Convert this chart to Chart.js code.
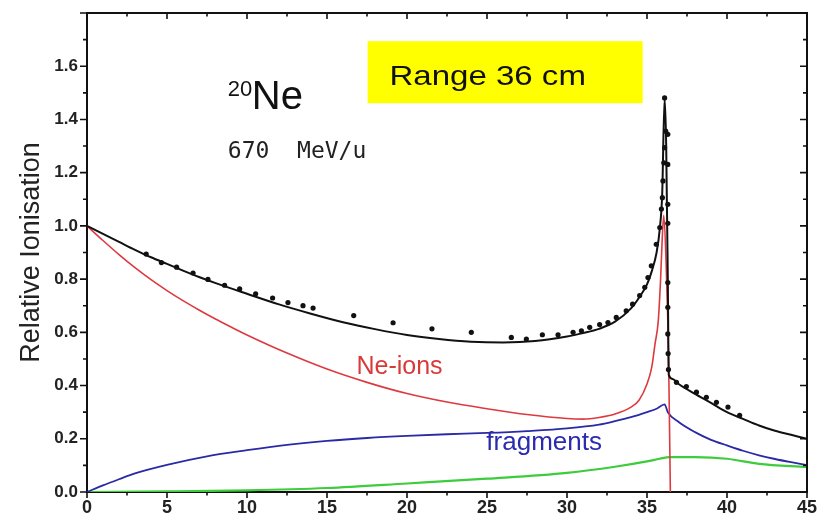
<!DOCTYPE html>
<html><head><meta charset="utf-8">
<script src="https://cdn.jsdelivr.net/npm/chart.js@4/dist/chart.umd.min.js"></script>
<style>html,body{margin:0;padding:0;background:#fff}#wrap{width:818px;height:520px}</style>
</head><body><div id="wrap"><canvas id="c" width="818" height="520"></canvas></div>
<script>
// ---- data ----
const totalX = [0,1,2,3,4,5,6,7,8,10,12,14,16,18,20,22,24,26,28,30,31,32,33,34,34.5,35,35.3,35.6,35.8,35.95,36.1,36.2,36.3,36.36,36.6,37,38,39,40,41,42,43,44,45];
const totalY = [1.0,0.97,0.94,0.91,0.882,0.857,0.832,0.808,0.786,0.745,0.705,0.67,0.638,0.612,0.59,0.575,0.565,0.562,0.567,0.584,0.597,0.613,0.64,0.69,0.73,0.78,0.83,0.9,0.99,1.12,1.48,1.30,0.80,0.44,0.425,0.405,0.369,0.335,0.30,0.275,0.25,0.23,0.215,0.2];

const neX = [0,1,2,3,4,5,6,7,8,9,10,12.5,15,17.5,20,22.5,25,27.5,30,31,32,33,34,34.5,35,35.3,35.5,35.7,35.85,35.95,36.05,36.2,36.35,36.46];
const neY = [1.0,0.945,0.892,0.843,0.798,0.757,0.719,0.684,0.651,0.62,0.59,0.522,0.462,0.412,0.37,0.338,0.313,0.291,0.276,0.274,0.28,0.293,0.319,0.345,0.406,0.47,0.556,0.64,0.8,0.95,1.04,0.85,0.5,0.0];

const fragX = [0,1,2,3,5,7.5,10,12.5,15,17.5,20,22.5,25,27.5,30,32,33,34,35,35.6,36.1,36.3,37,38,39,40,41,42,43,44,45];
const fragY = [0,0.025,0.048,0.07,0.102,0.134,0.157,0.177,0.192,0.203,0.211,0.217,0.222,0.229,0.239,0.253,0.266,0.281,0.30,0.313,0.329,0.30,0.262,0.225,0.196,0.175,0.155,0.138,0.124,0.112,0.101];

const greenX = [0,5,10,15,20,25,30,33,35,35.8,36.4,38,40,42,45];
const greenY = [0,0.002,0.006,0.015,0.032,0.05,0.072,0.095,0.115,0.125,0.131,0.131,0.125,0.106,0.094];

const dotX = [3.7,4.65,5.6,6.63,7.56,8.6,9.54,10.54,11.6,12.56,13.5,14.13,16.67,19.13,21.56,24.02,26.52,27.46,28.46,29.44,30.38,30.9,31.42,32.04,32.56,33.08,33.7,34.1,34.54,34.86,35.06,35.27,35.58,35.8,35.9,35.96,36.0,36.05,36.1,36.17,36.1,36.3,36.3,36.3,36.3,36.3,36.3,36.3,36.32,36.34,36.84,37.46,38.09,38.71,39.34,40.06,40.79];
const dotY = [0.894,0.862,0.845,0.823,0.799,0.777,0.763,0.745,0.729,0.712,0.70,0.691,0.663,0.636,0.613,0.60,0.581,0.575,0.591,0.591,0.60,0.606,0.619,0.629,0.637,0.656,0.681,0.706,0.738,0.769,0.806,0.85,0.931,0.994,1.063,1.106,1.169,1.237,1.294,1.356,1.481,1.344,1.231,1.081,1.01,0.787,0.694,0.594,0.52,0.46,0.412,0.396,0.375,0.356,0.337,0.319,0.288];

const xTickStep = 5, xMinorStep = 2.5;
const yTickStep = 0.2, yMinorStep = 0.1;
const yLabelMax = 1.6;

const zip = (xs, ys) => xs.map((x, i) => ({x, y: ys[i]}));

// annotations (data coordinates)
const notes = [
  {text: '20', x: 8.79, y: 1.487, font: '22px "Liberation Sans"', color: '#111'},
  {text: 'Ne', x: 10.3, y: 1.438, font: '40px "Liberation Sans"', color: '#111'},
  {text: '670  MeV/u', x: 8.8, y: 1.254, font: '23px "DejaVu Sans Mono"', color: '#222'},
  {text: 'Range 36 cm', x: 18.9, y: 1.529, font: '28px "Liberation Sans"', color: '#111', sx: 1.18},
  {text: 'Ne-ions', x: 16.84, y: 0.444, font: '25px "Liberation Sans"', color: '#d83a3a'},
  {text: 'fragments', x: 24.96, y: 0.156, font: '26px "Liberation Sans"', color: '#2b2bb0'}
];
const box = {x0: 17.54, x1: 34.73, y0: 1.461, y1: 1.694, color: '#ffff00'};

const decor = {
  id: 'decor',
  beforeDatasetsDraw(chart) {
    const {ctx, scales: {x, y}} = chart;
    ctx.save();
    ctx.fillStyle = box.color;
    const px0 = x.getPixelForValue(box.x0), px1 = x.getPixelForValue(box.x1);
    const py0 = y.getPixelForValue(box.y1), py1 = y.getPixelForValue(box.y0);
    ctx.fillRect(px0, py0, px1 - px0, py1 - py0);
    ctx.restore();
  },
  afterDraw(chart) {
    const {ctx, chartArea: {left, right, top, bottom}, scales: {x, y}} = chart;
    ctx.save();
    ctx.strokeStyle = '#111';
    ctx.lineWidth = 2;
    ctx.beginPath();
    ctx.moveTo(left - 1, top); ctx.lineTo(right, top); ctx.lineTo(right, bottom + 1);
    ctx.stroke();
    ctx.lineWidth = 1.6;
    ctx.beginPath();
    for (let k = 0; k <= Math.round(x.max / xMinorStep); k++) {
      const v = k * xMinorStep;
      const px = x.getPixelForValue(v);
      const L = (k % 2 === 0) ? 6 : 3.5;
      ctx.moveTo(px, bottom); ctx.lineTo(px, bottom + L);
      ctx.moveTo(px, top); ctx.lineTo(px, top + L);
    }
    for (let k = 0; k <= Math.round(y.max / yMinorStep); k++) {
      const v = k * yMinorStep;
      const py = y.getPixelForValue(v);
      const L = (k % 2 === 0) ? 7 : 4;
      ctx.moveTo(left, py); ctx.lineTo(left - L, py);
      ctx.moveTo(right, py); ctx.lineTo(right - L, py);
    }
    ctx.stroke();
    ctx.textBaseline = 'alphabetic';
    ctx.textAlign = 'left';
    for (const n of notes) {
      ctx.save();
      ctx.font = n.font;
      ctx.fillStyle = n.color;
      ctx.translate(x.getPixelForValue(n.x), y.getPixelForValue(n.y));
      if (n.sx) ctx.scale(n.sx, 1);
      ctx.fillText(n.text, 0, 0);
      ctx.restore();
    }
    ctx.restore();
  }
};

const lineDs = (label, data, color, w) => ({
  label, data, showLine: true, borderColor: color, borderWidth: w,
  pointRadius: 0, cubicInterpolationMode: 'monotone', order: 1
});

new Chart(document.getElementById('c'), {
  type: 'scatter',
  data: {
    datasets: [
      {label: 'measured', data: zip(dotX, dotY), showLine: false, pointRadius: 2.6,
       backgroundColor: '#111', borderWidth: 0, order: 0},
      lineDs('total', zip(totalX, totalY), '#111', 2),
      lineDs('Ne-ions', zip(neX, neY), '#dd3a40', 1.6),
      lineDs('fragments', zip(fragX, fragY), '#2a2aa6', 1.8),
      lineDs('secondary', zip(greenX, greenY), '#3ccc3c', 2.2)
    ]
  },
  options: {
    responsive: false,
    animation: false,
    devicePixelRatio: 1,
    layout: {padding: {top: 13, right: 11, left: 0, bottom: 0}},
    plugins: {legend: {display: false}, tooltip: {enabled: false}},
    scales: {
      x: {
        type: 'linear', min: 0, max: 45,
        grid: {display: false, drawTicks: false},
        border: {display: true, color: '#111', width: 2},
        ticks: {stepSize: xTickStep, padding: 5, color: '#222',
                font: {family: '"Liberation Sans"', size: 18, weight: 'bold'},
                maxRotation: 0},
        afterFit: s => { s.height = 28; s.paddingLeft = 0; s.paddingRight = 0; }
      },
      y: {
        type: 'linear', min: 0, max: 1.8,
        grid: {display: false, drawTicks: false},
        border: {display: true, color: '#111', width: 2},
        ticks: {stepSize: yTickStep, padding: 9, color: '#222',
                font: {family: '"Liberation Sans"', size: 17, weight: 'bold'},
                callback: v => (v > yLabelMax + 0.05 ? '' : Number(v).toFixed(1))},
        title: {display: true, text: 'Relative Ionisation', color: '#222',
                font: {family: '"Liberation Sans"', size: 27}, padding: {top: 15, bottom: 0}},
        afterFit: s => { s.width = 87; s.paddingTop = 0; s.paddingBottom = 0; }
      }
    }
  },
  plugins: [decor]
});
</script>
</body></html>
